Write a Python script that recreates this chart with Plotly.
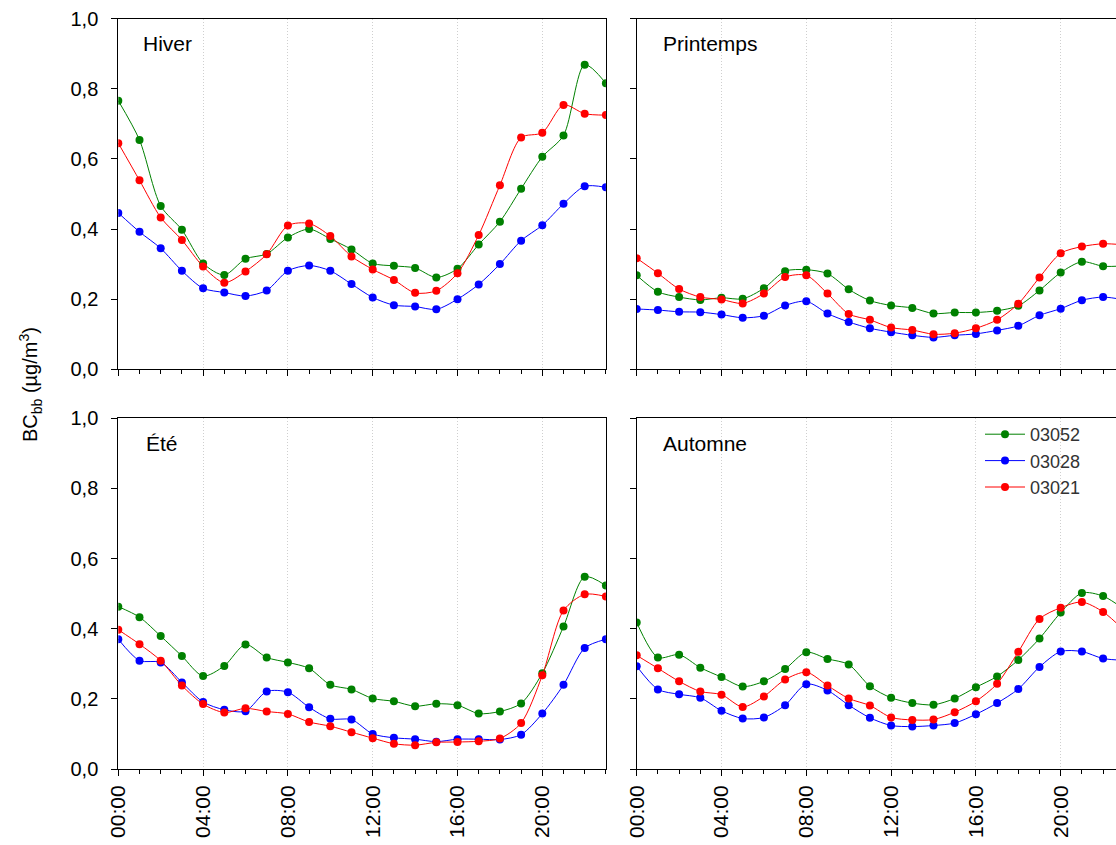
import plotly.graph_objects as go

hours = list(range(24))
tick_vals = [0, 4, 8, 12, 16, 20]
tick_text = ["00:00", "04:00", "08:00", "12:00", "16:00", "20:00"]
series_names = ["03052", "03028", "03021"]
series_colors = ["#008000", "#0000FF", "#FF0000"]
seasons = ["Hiver", "Printemps", "Été", "Automne"]

hiver_03052 = [0.766, 0.654, 0.466, 0.398, 0.302, 0.269, 0.315, 0.329, 0.376, 0.400, 0.372, 0.342,
               0.302, 0.295, 0.289, 0.262, 0.287, 0.356, 0.421, 0.515, 0.606, 0.667, 0.869, 0.816]
hiver_03028 = [0.446, 0.392, 0.345, 0.281, 0.231, 0.219, 0.209, 0.225, 0.281, 0.296, 0.281, 0.243,
               0.205, 0.183, 0.179, 0.171, 0.200, 0.242, 0.300, 0.367, 0.411, 0.472, 0.522, 0.519]
hiver_03021 = [0.645, 0.539, 0.433, 0.369, 0.293, 0.247, 0.279, 0.328, 0.410, 0.416, 0.380, 0.322,
               0.285, 0.255, 0.218, 0.224, 0.274, 0.383, 0.525, 0.661, 0.675, 0.754, 0.729, 0.725]

printemps_03052 = [0.268, 0.221, 0.206, 0.198, 0.204, 0.201, 0.231, 0.280, 0.284, 0.273, 0.228, 0.196,
                   0.182, 0.175, 0.159, 0.162, 0.162, 0.167, 0.181, 0.225, 0.276, 0.307, 0.294, 0.295]
printemps_03028 = [0.172, 0.169, 0.164, 0.163, 0.156, 0.147, 0.153, 0.182, 0.194, 0.159, 0.135, 0.117,
                   0.106, 0.097, 0.091, 0.097, 0.101, 0.111, 0.124, 0.154, 0.173, 0.197, 0.206, 0.198]
printemps_03021 = [0.317, 0.274, 0.229, 0.206, 0.199, 0.188, 0.216, 0.263, 0.268, 0.216, 0.158, 0.141,
                   0.119, 0.112, 0.100, 0.103, 0.117, 0.141, 0.187, 0.262, 0.331, 0.350, 0.358, 0.355]

ete_03052 = [0.463, 0.433, 0.379, 0.322, 0.265, 0.294, 0.355, 0.318, 0.304, 0.287, 0.240, 0.227,
             0.201, 0.193, 0.179, 0.186, 0.182, 0.158, 0.164, 0.187, 0.273, 0.406, 0.548, 0.523]
ete_03028 = [0.370, 0.309, 0.304, 0.247, 0.191, 0.169, 0.165, 0.221, 0.219, 0.176, 0.143, 0.141,
             0.100, 0.089, 0.085, 0.078, 0.085, 0.085, 0.084, 0.098, 0.158, 0.240, 0.345, 0.370]
ete_03021 = [0.397, 0.356, 0.309, 0.238, 0.185, 0.161, 0.173, 0.164, 0.157, 0.134, 0.122, 0.105,
             0.088, 0.072, 0.068, 0.076, 0.077, 0.079, 0.087, 0.131, 0.267, 0.452, 0.498, 0.492]

automne_03052 = [0.418, 0.318, 0.326, 0.289, 0.262, 0.235, 0.250, 0.285, 0.333, 0.314, 0.298, 0.236,
                 0.203, 0.188, 0.183, 0.201, 0.233, 0.264, 0.311, 0.372, 0.446, 0.502, 0.493, 0.455]
automne_03028 = [0.293, 0.227, 0.213, 0.203, 0.166, 0.144, 0.147, 0.182, 0.242, 0.224, 0.182, 0.146,
                 0.124, 0.121, 0.124, 0.131, 0.156, 0.188, 0.228, 0.291, 0.335, 0.335, 0.315, 0.310]
automne_03021 = [0.324, 0.287, 0.250, 0.221, 0.212, 0.177, 0.207, 0.255, 0.276, 0.238, 0.201, 0.181,
                 0.147, 0.140, 0.141, 0.162, 0.193, 0.243, 0.334, 0.428, 0.460, 0.476, 0.448, 0.395]

season_data = [
    [hiver_03052, hiver_03028, hiver_03021],
    [printemps_03052, printemps_03028, printemps_03021],
    [ete_03052, ete_03028, ete_03021],
    [automne_03052, automne_03028, automne_03021],
]

W, H = 1116, 845
def px_x(p):
    return p / W
def px_y(p):
    return (H - p) / H

hour_px = 21.2
left_dom = [px_x(118.3), px_x(118.3 + 23 * hour_px)]
right_x0 = 636.7
right_dom = [px_x(right_x0), 1.0]
right_range_max = (W - right_x0) / hour_px
top_dom = [px_y(369.3), px_y(18.7)]
bot_dom = [px_y(769.0), px_y(418.3)]

fig = go.Figure()
FONT = "Liberation Sans, Arial, sans-serif"

panel_specs = [
    (left_dom, top_dom, 23, True, False),
    (right_dom, top_dom, right_range_max, False, False),
    (left_dom, bot_dom, 23, True, True),
    (right_dom, bot_dom, right_range_max, False, True),
]

for i, (xd, yd, xmax, is_left, is_bottom) in enumerate(panel_specs):
    n = i + 1
    xa = "x" if n == 1 else f"x{n}"
    ya = "y" if n == 1 else f"y{n}"
    for j in range(3):
        fig.add_trace(go.Scatter(
            x=hours, y=season_data[i][j], xaxis=xa, yaxis=ya,
            mode="lines+markers", name=series_names[j],
            line=dict(color=series_colors[j], width=1, shape="spline", smoothing=0.8),
            marker=dict(color=series_colors[j], size=8, symbol="circle"),
            showlegend=(n == 4), legendrank=j,
        ))
    xkey = "xaxis" if n == 1 else f"xaxis{n}"
    ykey = "yaxis" if n == 1 else f"yaxis{n}"
    fig.layout[xkey] = dict(
        domain=xd, range=[0, xmax], anchor=ya, automargin=False,
        tickmode="array", tickvals=tick_vals, ticktext=tick_text,
        tickangle=-90, ticks="outside", ticklen=6, tickcolor="black", tickwidth=1,
        minor=dict(tickmode="linear", tick0=0, dtick=1, ticks="outside", ticklen=4,
                   tickcolor="black", showgrid=False),
        showticklabels=is_bottom, ticklabelstandoff=1,
        showgrid=True, gridcolor="#cfcfcf", griddash="1px,2px", gridwidth=1,
        showline=True, linecolor="black", linewidth=1, mirror=True,
        zeroline=False, tickfont=dict(family=FONT, size=21, color="black"),
        fixedrange=True,
    )
    fig.layout[ykey] = dict(
        domain=yd, range=[0, 1.0], anchor=xa, automargin=False,
        tickmode="linear", tick0=0, dtick=0.2, tickformat=".1f",
        ticks="outside", ticklen=6, tickcolor="black", tickwidth=1,
        showticklabels=is_left, ticklabelstandoff=9, showgrid=False, zeroline=False,
        showline=True, linecolor="black", linewidth=1, mirror=is_left,
        tickfont=dict(family=FONT, size=20, color="black"),
        fixedrange=True,
    )

labels = [("Hiver", 141, 44), ("Printemps", 661, 44), ("Été", 144, 443), ("Automne", 661, 443)]
for txt, lx, ly in labels:
    fig.add_annotation(text=txt, x=px_x(lx), y=px_y(ly), xref="paper", yref="paper",
                       xanchor="left", yanchor="middle", showarrow=False,
                       font=dict(family=FONT, size=21, color="black"))

fig.add_annotation(text="BC<sub>bb</sub> (µg/m<sup>3</sup>)", x=px_x(30), y=px_y(385),
                   xref="paper", yref="paper", textangle=-90, showarrow=False,
                   xanchor="center", yanchor="middle",
                   font=dict(family=FONT, size=20, color="black"))

fig.update_layout(
    width=W, height=H, margin=dict(l=0, r=0, t=0, b=0, pad=0, autoexpand=False),
    paper_bgcolor="white", plot_bgcolor="white",
    separators=", ",
    showlegend=True,
    legend=dict(x=px_x(980), y=px_y(416), xanchor="left", yanchor="top",
                bgcolor="rgba(0,0,0,0)", font=dict(family=FONT, size=18, color="#333"),
                tracegroupgap=0, itemwidth=40),
)

fig.write_html("out.html")
